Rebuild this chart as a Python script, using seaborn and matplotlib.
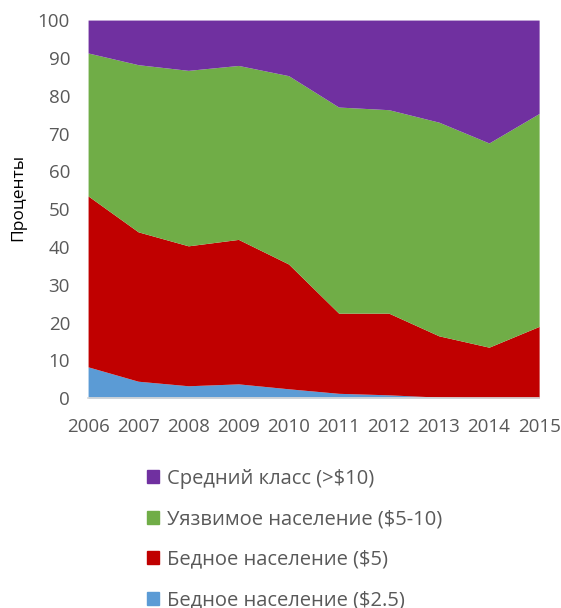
import matplotlib
matplotlib.use("Agg")
import matplotlib.pyplot as plt
from matplotlib.patches import Patch
import seaborn as sns
import pandas as pd

years = [2006, 2007, 2008, 2009, 2010, 2011, 2012, 2013, 2014, 2015]
poor_25 = [8.3, 4.5, 3.3, 3.8, 2.5, 1.3, 0.9, 0.3, 0.1, 0.1]
poor_5 = [45.2, 39.5, 37.0, 38.2, 33.0, 21.2, 21.6, 16.2, 13.4, 18.9]
vulnerable = [37.8, 44.2, 46.4, 46.0, 49.8, 54.5, 53.8, 56.5, 54.0, 56.3]
middle = [8.7, 11.8, 13.3, 12.0, 14.7, 23.0, 23.7, 27.0, 32.5, 24.7]

labels = ["Средний класс (>$10)", "Уязвимое население ($5-10)",
          "Бедное население ($5)", "Бедное население ($2.5)"]
colors = ["#7030a0", "#70ad47", "#c00000", "#5b9bd5"]
series = [middle, vulnerable, poor_5, poor_25]

rows = []
for lab, vals in zip(labels, series):
    for y, v in zip(years, vals):
        rows.append({"year": y, "group": lab, "value": v})
df = pd.DataFrame(rows)

sns.set_theme(style="white")
plt.rcParams["font.family"] = ["Open Sans", "DejaVu Sans"]

fig = plt.figure(figsize=(5.61, 6.08), dpi=100)
ax = fig.add_axes([0.157, 0.345, 0.804, 0.622])

sns.histplot(data=df, x="year", weights="value", hue="group", hue_order=labels,
             multiple="stack", element="poly", discrete=True, palette=colors,
             alpha=1, linewidth=0, legend=False, ax=ax)

ax.set_xlim(2006, 2015)
ax.set_ylim(0, 100)
ax.set_xticks(years)
ax.set_xticklabels([str(y) for y in years])
ax.set_yticks(range(0, 101, 10))
ax.tick_params(axis="y", labelsize=13.5, colors="#595959", length=0, pad=13)
ax.tick_params(axis="x", labelsize=13.5, labelcolor="#595959", length=5,
               color="#d9d9d9", direction="out", pad=9)
ax.set_xlabel("")
ax.set_ylabel("Проценты", fontsize=12.5, color="#000000", labelpad=8)
ax.yaxis.set_label_coords(-0.137, 0.53)
for s in ["top", "right", "left"]:
    ax.spines[s].set_visible(False)
ax.spines["bottom"].set_color("#d9d9d9")

handles = [Patch(facecolor=c, edgecolor=c) for c in colors]
fig.legend(handles, labels, loc="upper left", bbox_to_anchor=(0.262, 0.229),
           frameon=False, fontsize=14.5, labelcolor="#595959",
           handlelength=0.6, handleheight=0.6, handletextpad=0.4,
           labelspacing=1.02, borderaxespad=0, borderpad=0)

fig.savefig("out.png", dpi=100)
